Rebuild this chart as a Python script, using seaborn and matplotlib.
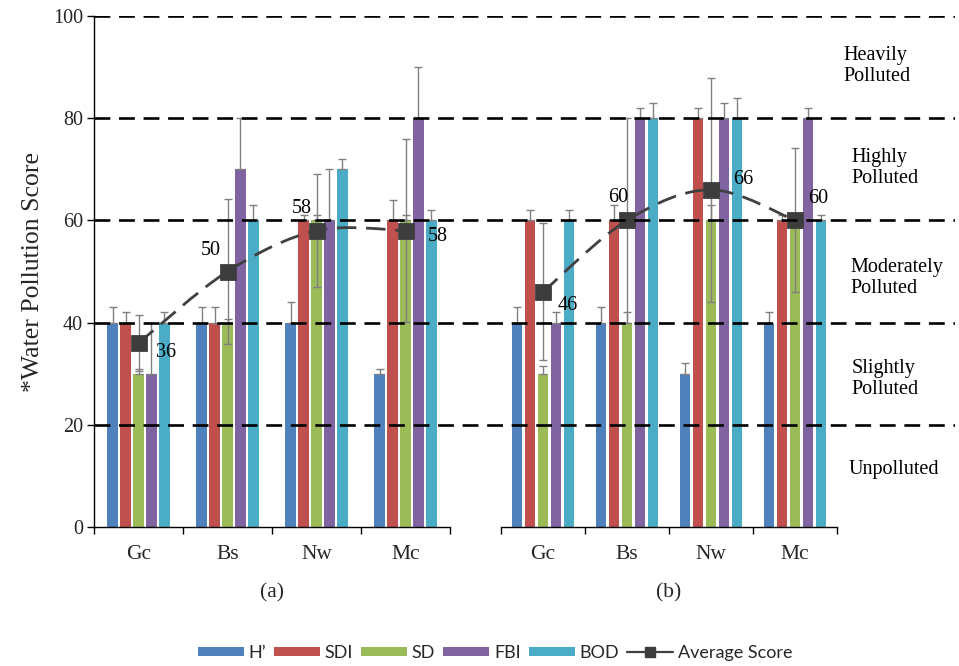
import numpy as np
import pandas as pd
import matplotlib
matplotlib.use("Agg")
import matplotlib.pyplot as plt
from matplotlib.path import Path
from matplotlib.patches import PathPatch, Patch
from matplotlib.lines import Line2D
from matplotlib.colors import to_hex
import seaborn as sns

# ---- data -------------------------------------------------------------
sites = ["Gc", "Bs", "Nw", "Mc"]
indices = ["H\u2019", "SDI", "SD", "FBI", "BOD"]
colors = ["#4F81BD", "#C0504D", "#9BBB59", "#8064A2", "#4BACC6"]

# panel (a)
a_hprime = [40, 40, 40, 30]
a_sdi = [40, 40, 60, 60]
a_sd = [30, 40, 60, 60]
a_fbi = [30, 70, 60, 80]
a_bod = [40, 60, 70, 60]
a_hprime_err = [3, 3, 4, 1]
a_sdi_err = [2, 3, 1, 4]
a_sd_err = [1, 0.7, 1, 1]
a_fbi_err = [10, 10, 10, 10]
a_bod_err = [2, 3, 2, 2]
a_avg = [36, 50, 58, 58]
a_avg_sd = [5.5, 14.1, 11.0, 17.9]

# panel (b)
b_hprime = [40, 40, 30, 40]
b_sdi = [60, 60, 80, 60]
b_sd = [30, 40, 60, 60]
b_fbi = [40, 80, 80, 80]
b_bod = [60, 80, 80, 60]
b_hprime_err = [3, 3, 2, 2]
b_sdi_err = [2, 3, 2, 1]
b_sd_err = [1.5, 2, 3, 1]
b_fbi_err = [2, 2, 3, 2]
b_bod_err = [2, 3, 4, 1]
b_avg = [46, 60, 66, 60]
b_avg_sd = [13.4, 20.0, 21.9, 14.1]

y_ticks = [0, 20, 40, 60, 80, 100]
class_bounds = [20, 40, 60, 80, 100]
class_labels = ["Heavily\nPolluted", "Highly\nPolluted", "Moderately\nPolluted",
                "Slightly\nPolluted", "Unpolluted"]
class_label_y = [90.3, 70.2, 48.8, 28.9, 11.2]
class_label_x = [0.871, 0.880, 0.878, 0.880, 0.876]

# ---- style ------------------------------------------------------------
sns.set_theme(style="white")
SERIF = ["Liberation Serif", "DejaVu Serif"]
plt.rcParams["font.family"] = SERIF
plt.rcParams["axes.linewidth"] = 1.0
plt.rcParams["axes.edgecolor"] = "black"

W, H = 959, 666
fig = plt.figure(figsize=(W / 100, H / 100), dpi=100)

def frac_x(px):
    return px / W

def frac_y(py):
    return (H - py) / H

y0_px, y100_px = 527, 16
ax_a = fig.add_axes([frac_x(94), frac_y(y0_px), frac_x(450 - 94), (y0_px - y100_px) / H])
ax_b = fig.add_axes([frac_x(501), frac_y(y0_px), frac_x(837 - 501), (y0_px - y100_px) / H])
overlay = fig.add_axes([frac_x(94), frac_y(y0_px), frac_x(955 - 94), (y0_px - y100_px) / H])

TICK_FS = 14.5
XTICK_FS = 15.5
ERR_COLOR = "#808080"
AVG_COLOR = "#3d3d3d"


def smooth_path(xs, ys):
    """Bezier path through the points, spreadsheet-style smoothing."""
    pts = list(zip(xs, ys))
    n = len(pts)
    verts = [pts[0]]
    codes = [Path.MOVETO]
    for i in range(n - 1):
        p0 = pts[i - 1] if i > 0 else pts[i]
        p1, p2 = pts[i], pts[i + 1]
        p3 = pts[i + 2] if i + 2 < n else pts[i + 1]
        c1 = (p1[0] + (p2[0] - p0[0]) / 6, p1[1] + (p2[1] - p0[1]) / 6)
        c2 = (p2[0] - (p3[0] - p1[0]) / 6, p2[1] - (p3[1] - p1[1]) / 6)
        verts += [c1, c2, p2]
        codes += [Path.CURVE4] * 3
    return Path(verts, codes)


def draw_panel(ax, vals, errs, avg, avg_sd, width, label_offsets, xlabel, show_y):
    df = pd.DataFrame(
        [(s, idx, v) for idx, series in zip(indices, vals) for s, v in zip(sites, series)],
        columns=["site", "index", "score"],
    )
    sns.barplot(data=df, x="site", y="score", hue="index", order=sites,
                hue_order=indices, palette=colors, saturation=1, width=width,
                gap=0.21, errorbar=None, legend=False, linewidth=0, ax=ax)

    # plus-direction error bars on every bar
    col_lookup = {to_hex(c).lower(): k for k, c in enumerate(colors)}
    bx, by, be = [], [], []
    for p in ax.patches:
        k = col_lookup.get(to_hex(p.get_facecolor()).lower())
        if k is None:
            continue
        xc = p.get_x() + p.get_width() / 2
        ci = int(round(xc))
        bx.append(xc)
        by.append(p.get_height())
        be.append(errs[k][ci])
    ax.errorbar(bx, by, yerr=[np.zeros(len(be)), be], fmt="none",
                ecolor=ERR_COLOR, elinewidth=1.0, capsize=3, capthick=1.0, zorder=3)

    # average score: smoothed dashed line, markers, +/- error bars
    pos = np.arange(len(sites))
    ax.add_patch(PathPatch(smooth_path(pos, avg), fill=False, edgecolor="#404040",
                           lw=2.0, linestyle=(0, (7, 3.5)), zorder=4))
    ax.errorbar(pos, avg, yerr=avg_sd, fmt="none", ecolor=ERR_COLOR,
                elinewidth=1.0, capsize=3, capthick=1.0, zorder=4)
    avg_df = pd.DataFrame({"site": sites, "avg": avg})
    sns.pointplot(data=avg_df, x="site", y="avg", order=sites, color=AVG_COLOR,
                  marker="s", markersize=9.5, linestyle="none", errorbar=None, ax=ax)
    for line in ax.lines[-1:]:
        line.set_zorder(5)
    for p, v, off in zip(pos, avg, label_offsets):
        ax.annotate(f"{v}", (p, v), xytext=off, textcoords="offset pixels",
                    ha="center", va="center", fontsize=TICK_FS, color="black",
                    family=SERIF, zorder=6)

    ax.set_xlim(-0.5, len(sites) - 0.5)
    ax.set_ylim(0, 100)
    ax.set_xticks(pos)
    ax.set_xticklabels(sites, fontsize=XTICK_FS, family=SERIF)
    ax.set_xticks(np.arange(-0.5, len(sites), 1.0), minor=True)
    ax.tick_params(axis="x", which="major", length=0, pad=13)
    ax.tick_params(axis="x", which="minor", length=5, width=1, direction="out",
                   color="black", bottom=True)
    ax.set_xlabel(xlabel, fontsize=XTICK_FS, labelpad=14, family=SERIF)
    ax.spines["top"].set_visible(False)
    ax.spines["right"].set_visible(False)
    if show_y:
        ax.set_yticks(y_ticks)
        ax.set_yticklabels([str(t) for t in y_ticks], fontsize=TICK_FS, family=SERIF)
        ax.tick_params(axis="y", length=5, width=1, direction="out", color="black",
                       left=True, pad=3)
        ax.set_ylabel("*Water Pollution Score", fontsize=18.5, labelpad=6,
                      family=SERIF)
    else:
        ax.spines["left"].set_visible(False)
        ax.set_yticks([])
        ax.set_ylabel("")
    ax.set_facecolor("none")


draw_panel(ax_a,
           [a_hprime, a_sdi, a_sd, a_fbi, a_bod],
           [a_hprime_err, a_sdi_err, a_sd_err, a_fbi_err, a_bod_err],
           a_avg, a_avg_sd, 0.73,
           [(28, -9), (-17, 21), (-15, 22), (32, -6)], "(a)", True)
draw_panel(ax_b,
           [b_hprime, b_sdi, b_sd, b_fbi, b_bod],
           [b_hprime_err, b_sdi_err, b_sd_err, b_fbi_err, b_bod_err],
           b_avg, b_avg_sd, 0.774,
           [(25, -14), (-9, 23), (32, 10), (23, 22)], "(b)", False)

# pollution class boundaries spanning both panels, with class names
overlay.set_xlim(0, 1)
overlay.set_ylim(0, 100)
overlay.axis("off")
overlay.hlines(class_bounds, 0, 1, colors="black", lw=1.9, linestyles=[(0, (6, 3.3))])
for lab, yy, xx in zip(class_labels, class_label_y, class_label_x):
    overlay.text(xx, yy, lab, ha="left", va="center", fontsize=TICK_FS,
                 linespacing=1.15, color="black", family=SERIF)

# legend
handles = [Patch(facecolor=c, edgecolor="none", label=n) for c, n in zip(colors, indices)]
handles.append(Line2D([], [], color="#404040", lw=1.6, marker="s", markersize=7,
                      markerfacecolor=AVG_COLOR, markeredgecolor=AVG_COLOR,
                      label="Average Score"))
leg = fig.legend(handles=handles, loc="center", bbox_to_anchor=(frac_x(495), frac_y(653)),
                 ncol=6, frameon=False, handlelength=2.55, handleheight=0.45,
                 handletextpad=0.25, columnspacing=0.45,
                 prop={"family": ["Lato", "DejaVu Sans"], "size": 13})

fig.savefig("out.png", dpi=100, facecolor="white")
